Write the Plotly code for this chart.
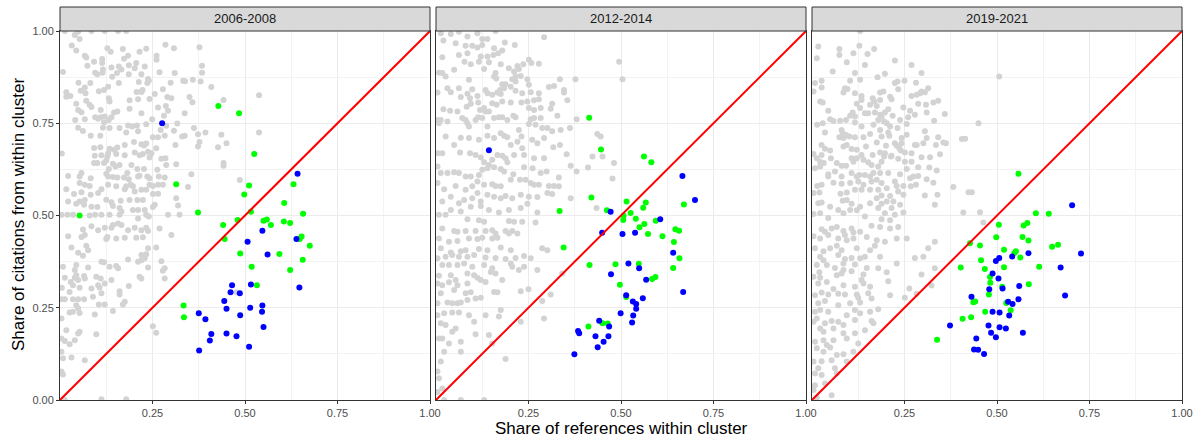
import plotly.graph_objects as go

periods = ["2006-2008", "2012-2014", "2019-2021"]

# (share of references within cluster, share of citations from within cluster)
gray_2006_2008 = [
(.040,.989),(.049,.998),(.085,1.0),(.121,1.0),(.157,1.0),(.179,1.0),(.013,1.0),(.032,.961),(.053,.978),(.044,.947),
(.128,.953),(.137,.944),(.170,.951),(.184,.933),(.215,.944),(.233,.952),(.285,.963),(.308,.953),(.377,.956),(.067,.933),
(.071,.928),(.092,.917),(.074,.906),(.114,.924),(.114,.913),(.139,.901),(.159,.904),(.173,.925),(.186,.907),(.206,.913),
(.202,.899),(.229,.904),(.261,.933),(.261,.922),(.269,.888),(.310,.886),(.384,.906),(.384,.887),(.008,.889),(.095,.887),
(.101,.883),(.116,.896),(.115,.887),(.141,.876),(.154,.886),(.166,.896),(.186,.883),(.220,.883),(.238,.870),(.240,.865),
(.236,.859),(.213,.862),(.159,.859),(.050,.860),(.082,.859),(.067,.847),(.056,.838),(.105,.837),(.119,.840),(.130,.849),
(.017,.834),(.017,.822),(.028,.824),(.069,.831),(.071,.811),(.044,.803),(.049,.786),(.058,.780),(.080,.800),(.085,.794),
(.110,.786),(.132,.818),(.134,.809),(.146,.779),(.155,.782),(.188,.812),(.207,.835),(.220,.835),(.223,.840),(.211,.815),
(.242,.816),(.256,.829),(.278,.842),(.299,.860),(.333,.865),(.338,.864),(.359,.868),(.380,.863),(.409,.848),(.350,.821),
(.358,.807),(.290,.821),(.301,.818),(.286,.797),(.265,.793),(.292,.784),(.337,.777),(.220,.777),(.188,.789),(.442,.813),
(.041,.759),(.067,.761),(.095,.766),(.103,.762),(.110,.766),(.121,.768),(.119,.753),(.132,.759),(.139,.766),(.116,.738),
(.134,.737),(.161,.737),(.184,.744),(.195,.741),(.208,.744),(.179,.725),(.233,.747),(.249,.761),(.281,.770),(.287,.743),
(.317,.749),(.308,.730),(.362,.737),(.393,.725),(.436,.719),(.450,.696),(.427,.685),(.049,.738),(.062,.729),(.083,.716),
(.109,.716),(.211,.728),(.200,.699),(.220,.693),(.265,.712),(.251,.712),(.272,.732),(.283,.716),(.312,.691),(.330,.714),
(.337,.716),(.377,.699),(.373,.687),(.373,.720),(.005,.668),(.092,.683),(.109,.685),(.134,.681),(.112,.663),(.094,.662),
(.130,.668),(.128,.660),(.146,.678),(.155,.684),(.175,.663),(.152,.667),(.175,.691),(.202,.671),(.215,.663),(.224,.667),
(.227,.690),(.233,.695),(.238,.673),(.242,.657),(.260,.682),(.247,.669),(.274,.654),(.285,.655),(.287,.637),(.263,.624),
(.314,.639),(.355,.612),(.442,.642),(.442,.635),(.092,.642),(.101,.642),(.119,.642),(.125,.649),(.143,.640),(.150,.633),
(.161,.637),(.193,.637),(.209,.626),(.227,.626),(.132,.626),(.022,.607),(.058,.615),(.053,.606),(.083,.601),(.125,.613),
(.130,.606),(.143,.604),(.155,.603),(.173,.603),(.182,.615),(.186,.598),(.191,.583),(.211,.606),(.215,.608),(.236,.606),
(.242,.601),(.267,.606),(.242,.583),(.251,.580),(.265,.583),(.278,.583),(.283,.603),(.346,.577),(.017,.571),(.053,.588),
(.067,.583),(.080,.580),(.112,.571),(.130,.583),(.152,.579),(.179,.579),(.197,.579),(.202,.565),(.175,.571),(.220,.570),
(.233,.570),(.251,.558),(.265,.559),(.038,.558),(.058,.563),(.083,.556),(.103,.561),(.125,.543),(.139,.536),(.164,.540),
(.188,.542),(.209,.542),(.224,.542),(.022,.538),(.044,.532),(.053,.538),(.067,.542),(.065,.529),(.085,.524),(.101,.523),
(.143,.526),(.161,.520),(.197,.515),(.211,.515),(.229,.515),(.256,.529),(.251,.523),(.314,.547),(.319,.527),(.004,.502),
(.020,.502),(.035,.502),(.080,.500),(.095,.502),(.112,.502),(.134,.502),(.161,.502),(.166,.511),(.233,.502),(.240,.497),
(.292,.502),(.323,.502),(.486,.596),(.538,.826),(.538,.725),
(.211,.492),(.062,.462),(.085,.471),(.103,.460),(.121,.467),(.139,.467),(.143,.474),(.157,.478),(.166,.474),(.184,.460),
(.202,.467),(.220,.460),(.233,.467),(.238,.458),(.022,.444),(.058,.442),(.067,.447),(.128,.442),(.125,.436),(.152,.438),
(.175,.440),(.206,.440),(.224,.441),(.269,.465),(.301,.447),(.031,.413),(.071,.418),(.076,.406),(.062,.391),(.049,.399),
(.220,.393),(.233,.395),(.238,.411),(.260,.413),(.184,.381),(.211,.375),(.220,.379),(.229,.384),(.274,.376),(.283,.357),
(.278,.350),(.008,.361),(.044,.366),(.040,.352),(.076,.359),(.112,.375),(.119,.373),(.134,.361),(.152,.363),(.157,.357),
(.238,.359),(.013,.331),(.029,.320),(.040,.331),(.044,.338),(.049,.325),(.067,.329),(.065,.336),(.098,.334),(.110,.329),
(.103,.311),(.107,.305),(.121,.316),(.139,.325),(.161,.295),(.161,.286),(.186,.309),(.215,.334),(.220,.329),(.283,.329),
(.005,.304),(.035,.311),(.026,.293),(.053,.304),(.085,.302),(.112,.289),(.089,.280),(.004,.273),(.013,.273),(.035,.273),
(.049,.273),(.065,.273),(.175,.266),(.170,.259),(.121,.259),(.105,.259),(.044,.257),(.049,.248),(.053,.236),(.026,.237),
(.035,.239),(.094,.232),(.143,.241),(.004,.221),(.017,.189),(.053,.185),(.049,.180),(.098,.178),(.251,.200),(.260,.182),
(.004,.167),(.013,.160),(.026,.151),(.040,.162),(.004,.131),(.008,.113),(.031,.115),(.067,.108),(.004,.077),(.008,.069),
(.112,.002),(.179,.002),(.013,.000),(.477,.292),
]

gray_2012_2014 = [
(.013,.994),(.040,.992),(.062,.998),(.085,.985),(.112,.994),(.125,.978),(.139,.978),(.161,1.0),(.020,.974),(.053,.967),
(.080,.960),(.098,.960),(.112,.955),(.125,.962),(.157,.953),(.186,.969),(.213,.962),(.292,.983),(.017,.929),(.062,.935),
(.085,.940),(.121,.931),(.139,.931),(.155,.935),(.168,.940),(.179,.947),(.077,.917),(.094,.910),(.116,.917),(.143,.915),
(.175,.910),(.197,.899),(.220,.905),(.236,.910),(.251,.922),(.258,.913),(.278,.911),(.495,.917),(.008,.887),(.017,.886),
(.026,.877),(.049,.895),(.130,.897),(.161,.886),(.157,.877),(.163,.871),(.211,.890),(.224,.897),(.215,.877),(.229,.878),
(.089,.868),(.179,.856),(.188,.856),(.206,.869),(.215,.863),(.247,.869),(.251,.854),(.305,.848),(.319,.851),(.335,.869),
(.377,.869),(.504,.869),(.004,.833),(.031,.845),(.040,.834),(.062,.845),(.067,.821),(.085,.830),(.092,.818),(.098,.842),
(.112,.824),(.134,.840),(.139,.831),(.152,.827),(.166,.833),(.173,.840),(.175,.829),(.184,.845),(.202,.849),(.215,.838),
(.233,.831),(.256,.834),(.278,.831),(.346,.840),(.346,.833),(.355,.812),(.314,.803),(.310,.789),(.020,.788),(.038,.784),
(.058,.782),(.083,.795),(.094,.803),(.114,.806),(.119,.786),(.130,.791),(.134,.782),(.143,.782),(.152,.804),(.164,.800),
(.179,.809),(.202,.806),(.231,.806),(.247,.809),(.265,.812),(.278,.815),(.251,.791),(.265,.786),(.283,.791),(.328,.770),
(.380,.761),(.004,.759),(.013,.759),(.031,.755),(.071,.764),(.080,.759),(.085,.750),(.089,.741),(.107,.759),(.114,.766),
(.125,.764),(.139,.741),(.157,.764),(.170,.766),(.179,.766),(.193,.759),(.209,.770),(.215,.766),(.256,.761),(.265,.764),
(.283,.764),(.251,.748),(.269,.746),(.287,.737),(.301,.737),(.314,.728),(.337,.732),(.362,.737),(.436,.721),(.445,.714),
(.008,.750),(.026,.714),(.049,.691),(.067,.711),(.089,.710),(.116,.705),(.139,.716),(.157,.710),(.175,.723),(.184,.716),
(.193,.712),(.202,.691),(.224,.732),(.231,.714),(.220,.700),(.233,.682),(.260,.705),(.274,.696),(.292,.710),(.317,.685),
(.335,.691),(.005,.669),(.017,.669),(.065,.671),(.092,.669),(.107,.664),(.121,.657),(.130,.644),(.143,.637),(.152,.651),
(.166,.664),(.179,.662),(.188,.655),(.211,.664),(.193,.644),(.238,.664),(.265,.655),(.292,.655),(.353,.666),(.364,.635),
(.411,.630),(.423,.660),(.450,.660),(.481,.642),(.004,.633),(.013,.615),(.031,.615),(.049,.617),(.062,.615),(.080,.606),
(.094,.606),(.116,.610),(.125,.624),(.139,.628),(.157,.631),(.175,.626),(.184,.619),(.209,.612),(.238,.631),(.261,.628),
(.283,.615),(.299,.619),(.332,.603),(.380,.619),(.477,.600),(.004,.588),(.022,.571),(.053,.580),(.080,.570),(.098,.579),
(.112,.592),(.130,.583),(.152,.585),(.161,.580),(.175,.579),(.202,.597),(.227,.597),(.242,.597),(.256,.588),(.265,.583),
(.278,.583),(.305,.580),(.319,.580),(.332,.579),(.017,.538),(.040,.551),(.062,.533),(.076,.542),(.098,.547),(.112,.561),
(.121,.538),(.139,.556),(.157,.551),(.175,.547),(.188,.553),(.206,.547),(.229,.556),(.251,.551),(.274,.550),(.301,.561),
(.314,.558),(.364,.547),(.008,.502),(.026,.502),(.040,.515),(.067,.511),(.094,.524),(.121,.526),(.143,.515),(.170,.508),
(.197,.515),(.229,.520),(.247,.532),(.274,.508),(.434,.520),
(.085,.490),(.116,.487),(.130,.483),(.197,.485),(.211,.483),(.233,.483),(.269,.481),(.017,.465),(.049,.458),(.058,.456),
(.080,.458),(.107,.458),(.134,.458),(.152,.460),(.161,.451),(.188,.458),(.197,.451),(.206,.458),(.220,.451),(.008,.438),
(.035,.429),(.058,.431),(.089,.438),(.112,.436),(.125,.440),(.152,.438),(.166,.440),(.013,.411),(.040,.400),(.067,.403),
(.080,.406),(.116,.409),(.139,.406),(.175,.413),(.202,.406),(.287,.411),(.301,.406),(.004,.384),(.026,.388),(.044,.393),
(.062,.388),(.085,.388),(.103,.393),(.134,.386),(.161,.385),(.188,.382),(.215,.385),(.238,.390),(.256,.384),(.017,.366),
(.035,.366),(.058,.366),(.076,.370),(.098,.361),(.130,.366),(.152,.357),(.202,.370),(.206,.361),(.238,.361),(.008,.337),
(.040,.338),(.053,.325),(.085,.343),(.103,.338),(.112,.331),(.148,.347),(.161,.343),(.179,.325),(.224,.352),(.274,.352),
(.341,.343),(.004,.316),(.017,.311),(.035,.319),(.058,.311),(.085,.316),(.121,.325),(.134,.320),(.013,.289),(.049,.298),
(.080,.289),(.094,.292),(.157,.293),(.166,.292),(.229,.295),(.250,.300),(.310,.286),(.004,.262),(.031,.264),(.044,.262),
(.058,.262),(.067,.264),(.085,.271),(.107,.275),(.121,.277),(.287,.268),(.004,.230),(.022,.235),(.044,.237),(.062,.237),
(.089,.230),(.134,.230),(.175,.244),(.013,.208),(.026,.203),(.103,.212),(.170,.226),(.229,.212),(.292,.221),(.044,.185),
(.053,.194),(.008,.167),(.017,.167),(.107,.178),(.143,.176),(.035,.153),(.067,.158),(.152,.153),(.022,.131),(.067,.131),
(.188,.111),(.013,.104),(.004,.077),(.008,.059),(.017,.031),(.004,.022),(.022,.000),(.067,.000),(.130,.000),
]

gray_2019_2021 = [
(.130,1.0),(.017,.958),(.074,.951),(.074,.935),(.112,.940),(.128,.960),(.150,.938),(.168,.951),(.013,.926),(.094,.915),
(.143,.908),(.224,.920),(.269,.908),(.056,.890),(.116,.886),(.197,.884),(.177,.875),(.296,.886),(.008,.859),(.026,.865),
(.026,.847),(.103,.865),(.130,.868),(.089,.845),(.085,.833),(.096,.843),(.116,.831),(.224,.859),(.231,.863),(.250,.865),
(.281,.860),(.233,.842),(.296,.836),(.314,.845),(.305,.834),(.292,.831),(.269,.824),(.283,.827),(.184,.833),(.193,.836),
(.134,.824),(.134,.813),(.164,.818),(.168,.809),(.184,.813),(.211,.822),(.215,.815),(.506,.877),(.004,.836),(.022,.809),
(.029,.806),(.121,.803),(.130,.791),(.110,.779),(.103,.770),(.116,.768),(.157,.800),(.175,.797),(.170,.779),(.184,.773),
(.197,.779),(.206,.788),(.218,.770),(.238,.759),(.247,.793),(.265,.784),(.260,.766),(.278,.773),(.287,.803),(.308,.800),
(.328,.806),(.341,.811),(.359,.775),(.310,.779),(.330,.757),(.044,.784),(.049,.761),(.058,.756),(.076,.757),(.092,.759),
(.116,.752),(.134,.741),(.143,.777),(.152,.777),(.166,.746),(.179,.759),(.188,.768),(.195,.755),(.202,.750),(.211,.741),
(.206,.725),(.184,.732),(.231,.737),(.256,.748),(.450,.750),(.014,.746),(.029,.750),(.035,.725),(.080,.732),(.083,.723),
(.074,.712),(.085,.710),(.092,.718),(.101,.714),(.116,.712),(.139,.712),(.157,.721),(.175,.698),(.188,.714),(.209,.716),
(.224,.696),(.242,.710),(.256,.719),(.278,.691),(.301,.696),(.305,.728),(.310,.710),(.335,.691),(.341,.712),(.355,.698),
(.362,.696),(.405,.707),(.414,.708),(.026,.691),(.035,.681),(.049,.676),(.085,.687),(.094,.691),(.107,.680),(.121,.678),
(.146,.687),(.134,.664),(.164,.664),(.184,.671),(.197,.669),(.200,.689),(.215,.662),(.229,.689),(.236,.682),(.240,.676),
(.242,.696),(.251,.671),(.269,.669),(.283,.691),(.296,.658),(.319,.658),(.346,.666),(.004,.667),(.013,.655),(.026,.664),
(.022,.646),(.032,.642),(.051,.655),(.067,.642),(.080,.635),(.092,.635),(.107,.655),(.112,.646),(.121,.655),(.139,.651),
(.152,.644),(.161,.637),(.179,.633),(.188,.646),(.195,.660),(.213,.660),(.233,.654),(.251,.646),(.269,.646),(.256,.626),
(.287,.631),(.317,.630),(.337,.622),(.008,.628),(.022,.633),(.044,.612),(.044,.606),(.062,.619),(.080,.606),(.107,.615),
(.121,.606),(.128,.610),(.143,.610),(.157,.606),(.166,.615),(.184,.615),(.206,.615),(.238,.612),(.265,.601),(.274,.606),
(.287,.607),(.310,.598),(.328,.589),(.014,.580),(.026,.583),(.058,.589),(.080,.586),(.103,.588),(.125,.592),(.139,.583),
(.161,.592),(.175,.597),(.188,.588),(.224,.592),(.229,.580),(.247,.580),(.267,.579),(.281,.583),(.004,.561),(.020,.562),
(.077,.559),(.094,.562),(.116,.570),(.134,.570),(.157,.570),(.179,.570),(.188,.554),(.202,.574),(.233,.565),(.247,.556),
(.305,.554),(.339,.556),(.382,.577),(.423,.563),(.432,.563),(.017,.533),(.026,.535),(.049,.524),(.083,.540),(.094,.542),
(.107,.532),(.130,.524),(.157,.533),(.175,.547),(.188,.532),(.211,.553),(.220,.538),(.202,.538),(.238,.529),(.332,.529),
(.004,.504),(.022,.506),(.044,.493),(.071,.515),(.085,.506),(.103,.515),(.121,.514),(.143,.497),(.179,.520),(.197,.506),
(.215,.520),(.224,.502),(.247,.508),(.409,.508),(.454,.509),
(.188,.490),(.211,.487),(.463,.481),(.026,.463),(.035,.456),(.053,.465),(.067,.469),(.085,.458),(.107,.465),(.112,.454),
(.130,.456),(.161,.472),(.184,.469),(.211,.465),(.233,.469),(.004,.444),(.022,.438),(.044,.447),(.071,.438),(.089,.447),
(.094,.433),(.112,.438),(.148,.442),(.175,.433),(.229,.438),(.256,.438),(.332,.429),(.314,.411),(.008,.411),(.031,.403),
(.049,.411),(.067,.418),(.080,.406),(.121,.411),(.157,.406),(.170,.418),(.197,.429),(.301,.388),(.278,.385),(.022,.388),
(.031,.379),(.071,.393),(.089,.382),(.107,.385),(.130,.384),(.143,.388),(.184,.388),(.013,.366),(.040,.366),(.062,.358),
(.085,.370),(.116,.367),(.148,.358),(.179,.357),(.229,.370),(.332,.357),(.004,.334),(.020,.346),(.022,.331),(.067,.338),
(.080,.343),(.085,.352),(.107,.349),(.139,.340),(.202,.346),(.296,.340),(.323,.310),(.017,.316),(.040,.320),(.058,.301),
(.085,.311),(.116,.307),(.134,.325),(.139,.316),(.157,.307),(.206,.322),(.263,.302),(.008,.284),(.026,.291),(.044,.286),
(.071,.288),(.089,.286),(.121,.286),(.125,.277),(.152,.289),(.211,.284),(.161,.275),(.251,.277),(.283,.288),(.017,.262),
(.035,.268),(.071,.257),(.103,.262),(.130,.264),(.179,.246),(.008,.239),(.022,.244),(.044,.239),(.094,.230),(.116,.244),
(.130,.235),(.157,.239),(.013,.221),(.004,.212),(.035,.208),(.053,.214),(.071,.212),(.085,.203),(.116,.217),(.161,.214),
(.166,.208),(.022,.194),(.031,.185),(.058,.194),(.085,.181),(.116,.181),(.143,.189),(.008,.158),(.031,.162),(.040,.149),
(.058,.162),(.094,.167),(.125,.153),(.013,.140),(.031,.131),(.049,.142),(.067,.122),(.085,.124),(.112,.131),(.004,.104),
(.026,.105),(.053,.108),(.094,.104),(.017,.086),(.062,.086),(.008,.072),(.026,.068),(.067,.072),(.008,.040),(.035,.045),
(.004,.027),(.053,.013),(.013,.006),
]

green_2006_2008 = [
(.053,.500),(.428,.797),(.484,.777),(.525,.667),(.314,.585),(.511,.581),(.631,.585),(.498,.557),(.606,.534),(.373,.508),
(.516,.510),(.657,.505),(.480,.488),(.550,.486),(.559,.489),(.605,.484),(.622,.480),(.441,.474),(.570,.474),(.445,.436),
(.653,.443),(.648,.436),(.675,.418),(.487,.397),(.593,.396),(.656,.380),(.518,.361),(.622,.352),(.334,.256),(.335,.224),
(.532,.311),
]
blue_2006_2008 = [
(.276,.750),(.642,.613),(.547,.459),(.639,.436),(.507,.429),(.561,.394),(.647,.305),(.465,.311),(.516,.313),(.461,.292),
(.486,.289),(.444,.268),(.450,.247),(.514,.250),(.547,.256),(.546,.239),(.375,.235),(.487,.230),(.393,.219),(.550,.198),
(.409,.179),(.450,.180),(.477,.173),(.405,.161),(.511,.144),(.376,.134),
]
green_2012_2014 = [
(.414,.765),(.446,.679),(.562,.660),(.582,.644),(.420,.549),(.515,.538),(.567,.535),(.670,.530),(.334,.512),(.462,.514),
(.560,.521),(.507,.499),(.526,.507),(.506,.488),(.540,.491),(.594,.486),(.563,.477),(.550,.468),(.647,.463),(.657,.459),
(.573,.450),(.612,.444),(.643,.428),(.345,.413),(.658,.384),(.415,.366),(.485,.368),(.548,.369),(.641,.358),(.584,.328),
(.593,.333),(.497,.312),(.514,.279),(.412,.199),(.450,.208),(.464,.207),
]
blue_2012_2014 = [
(.143,.677),(.666,.607),(.700,.542),(.472,.510),(.606,.490),(.449,.453),(.504,.450),(.538,.453),(.641,.399),(.520,.370),
(.549,.357),(.473,.341),(.568,.326),(.668,.293),(.514,.284),(.559,.276),(.532,.267),(.541,.260),(.541,.247),(.499,.235),
(.533,.229),(.530,.210),(.441,.215),(.468,.199),(.384,.187),(.387,.181),(.431,.173),(.466,.173),(.453,.158),(.437,.143),
(.374,.124),
]
green_2019_2021 = [
(.558,.613),(.605,.506),(.640,.505),(.505,.475),(.572,.473),(.582,.480),(.498,.441),(.569,.442),(.585,.432),(.427,.425),
(.454,.419),(.665,.421),(.649,.415),(.519,.407),(.551,.403),(.547,.398),(.563,.386),(.457,.379),(.402,.359),(.467,.355),
(.519,.360),(.614,.361),(.481,.333),(.482,.318),(.514,.307),(.586,.314),(.478,.286),(.436,.265),(.441,.267),(.525,.263),
(.537,.243),(.468,.239),(.407,.220),(.430,.224),(.338,.163),
]
blue_2019_2021 = [
(.703,.528),(.727,.397),(.585,.398),(.541,.389),(.506,.385),(.497,.377),(.672,.359),(.488,.343),(.504,.329),(.479,.300),
(.515,.302),(.560,.309),(.684,.283),(.431,.280),(.558,.273),(.530,.266),(.542,.260),(.488,.239),(.507,.237),(.533,.229),
(.373,.202),(.477,.202),(.507,.197),(.524,.194),(.484,.182),(.570,.182),(.497,.170),(.444,.167),(.438,.137),(.449,.136),
(.465,.125),
]

diag_x = [0, 1]
diag_y = [0, 1]
x_ticks = [0.25, 0.5, 0.75, 1.0]
y_ticks = [0.0, 0.25, 0.5, 0.75, 1.0]

panels = [
    (gray_2006_2008, green_2006_2008, blue_2006_2008),
    (gray_2012_2014, green_2012_2014, blue_2012_2014),
    (gray_2019_2021, green_2019_2021, blue_2019_2021),
]

W, H = 1193, 437
x_dom_px = [(60, 430), (436, 806), (812, 1182)]
y_dom = [1 - 400 / H, 1 - 31 / H]

fig = go.Figure()
FONT = "Liberation Sans, Arial, Helvetica, sans-serif"

for i, (gray, green, blue) in enumerate(panels):
    xa = "x" if i == 0 else f"x{i+1}"
    ya = "y" if i == 0 else f"y{i+1}"
    for pts, col in [(gray, "#D3D3D3"), (green, "#00FF00"), (blue, "#0000FF")]:
        fig.add_trace(go.Scatter(
            x=[p[0] for p in pts], y=[p[1] for p in pts], mode="markers",
            marker=dict(color=col, size=6, line=dict(width=0)),
            xaxis=xa, yaxis=ya, showlegend=False, hoverinfo="x+y"))
    fig.add_trace(go.Scatter(x=diag_x, y=diag_y, mode="lines",
                             line=dict(color="#FF0000", width=2),
                             xaxis=xa, yaxis=ya, showlegend=False))

grid_common = dict(
    showgrid=True, gridcolor="#EBEBEB", gridwidth=1.1,
    zeroline=False, showline=True, mirror=True, linecolor="#333333", linewidth=1,
    ticks="outside", ticklen=3, tickcolor="#333333", tickwidth=1,
    tickfont=dict(family=FONT, size=11, color="#4D4D4D"),
    minor=dict(tickmode="linear", tick0=0, dtick=0.125, showgrid=True,
               gridcolor="#F3F3F3", gridwidth=0.6, ticks=""),
    range=[0, 1], fixedrange=True, automargin=False,
)

layout = dict(
    width=W, height=H, margin=dict(l=0, r=0, t=0, b=0),
    paper_bgcolor="white", plot_bgcolor="white", showlegend=False,
    font=dict(family=FONT),
)
shapes = []
annotations = []
for i in range(3):
    x0, x1 = x_dom_px[i]
    dom = [x0 / W, x1 / W]
    xkey = "xaxis" if i == 0 else f"xaxis{i+1}"
    ykey = "yaxis" if i == 0 else f"yaxis{i+1}"
    xa_anchor = "y" if i == 0 else f"y{i+1}"
    ya_anchor = "x" if i == 0 else f"x{i+1}"
    layout[xkey] = dict(grid_common, domain=dom, anchor=xa_anchor,
                        tickmode="array", tickvals=x_ticks,
                        ticktext=[f"{v:.2f}" for v in x_ticks])
    layout[ykey] = dict(grid_common, domain=y_dom, anchor=ya_anchor,
                        tickmode="array", tickvals=y_ticks,
                        ticktext=[f"{v:.2f}" for v in y_ticks],
                        showticklabels=(i == 0),
                        ticks="outside" if i == 0 else "")
    shapes.append(dict(type="rect", xref="paper", yref="paper",
                       x0=x0 / W, x1=x1 / W, y0=1 - 31 / H, y1=1 - 7 / H,
                       fillcolor="#D9D9D9", line=dict(color="#333333", width=1)))
    annotations.append(dict(text=periods[i], xref="paper", yref="paper",
                            x=(x0 + x1) / 2 / W, y=1 - 19 / H, showarrow=False,
                            xanchor="center", yanchor="middle",
                            font=dict(family=FONT, size=13, color="#1A1A1A")))

annotations.append(dict(text="Share of references within cluster", xref="paper", yref="paper",
                        x=621 / W, y=1 - 428 / H, showarrow=False, xanchor="center", yanchor="middle",
                        font=dict(family=FONT, size=17, color="black")))
annotations.append(dict(text="Share of citations from within cluster", xref="paper", yref="paper",
                        x=18 / W, y=1 - 215 / H, showarrow=False, textangle=-90,
                        xanchor="center", yanchor="middle",
                        font=dict(family=FONT, size=17, color="black")))
layout["shapes"] = shapes
layout["annotations"] = annotations
fig.update_layout(**layout)

fig.write_html("out.html")
